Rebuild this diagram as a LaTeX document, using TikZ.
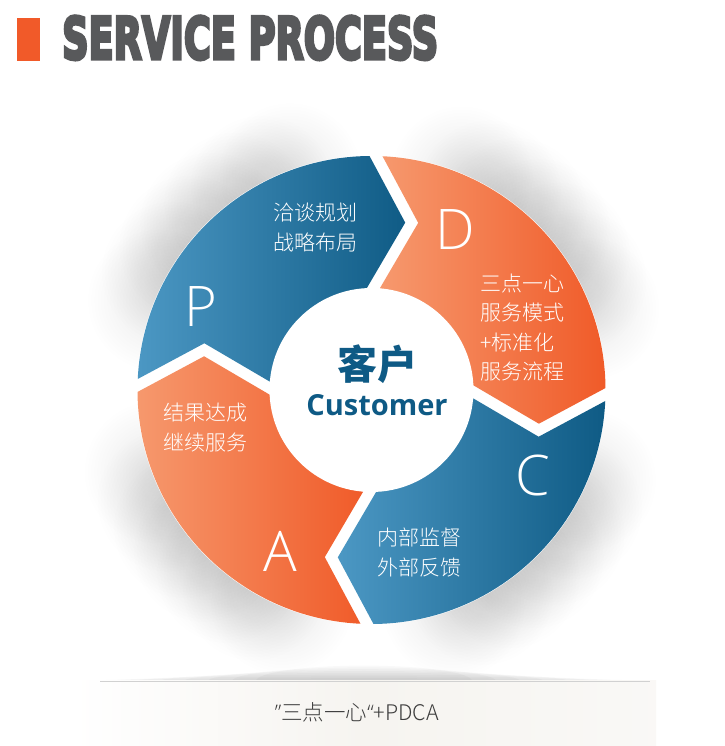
\documentclass[tikz,border=0pt]{standalone}
\usepackage{fontspec}
\usepackage{graphicx}
\usetikzlibrary{calc,fadings}
\newfontfamily\cjk{Noto Sans CJK SC}
\IfFontExistsTF{Noto Sans CJK SC Light}
  {\newfontfamily\cjklight{Noto Sans CJK SC Light}}
  {\newfontfamily\cjklight{Noto Sans CJK SC}}
\newfontfamily\osans{Open Sans}
\IfFontExistsTF{Open Sans Light}
  {\newfontfamily\osanslight{Open Sans Light}}
  {\newfontfamily\osanslight{Open Sans}}
\newfontfamily\titlefont{DejaVu Sans}[BoldFeatures={FakeBold=6}]
\definecolor{bluel}{HTML}{4C98C4}
\definecolor{blued}{HTML}{0E5A84}
\definecolor{orangel}{HTML}{F6996E}
\definecolor{oranged}{HTML}{F05A28}
\definecolor{titlegray}{HTML}{58595B}
\definecolor{markorange}{HTML}{F15A29}
\definecolor{centerblue}{HTML}{0E5A85}
\definecolor{capbg}{HTML}{F6F4F0}
\definecolor{captext}{HTML}{3C3C3C}
\tikzfading[name=blobfade, inner color=transparent!0, outer color=transparent!100]
\tikzset{
  segtext/.style={text=white, align=left, inner sep=0, font=\cjklight\fontsize{21}{29.5}\selectfont},
  letter/.style={text=white, inner sep=0, anchor=base, font=\osanslight\fontsize{56}{56}\selectfont},
  shadowblob/.style={black, opacity=0.09, path fading=blobfade}
}
\begin{document}
\begin{tikzpicture}[x=1pt,y=1pt]
\useasboundingbox (0,0) rectangle (724,746);
\fill[white] (0,0) rectangle (724,746);
\coordinate (ctr) at (371.5,356);

% boundary coordinates
\foreach \n/\a in {ap/178.9, pd/88.9, dc/-1.1, ca/268.9} {
  \begin{scope}[shift={(371.5,356)}, rotate=\a]
    \coordinate (\n Xf) at (300,6.5);
    \coordinate (\n Xo) at (234,6.5);
    \coordinate (\n Xt) at (168,-30.5);
    \coordinate (\n Xi) at (102,6.5);
    \coordinate (\n Yf) at (300,-6.5);
    \coordinate (\n Yo) at (234,-6.5);
    \coordinate (\n Yt) at (168,-43.5);
    \coordinate (\n Yi) at (102,-6.5);
  \end{scope}
}

% soft shadows
\foreach \m in {133.9,43.9,-46.1,223.9} {
  \foreach \d in {-24,-16,...,24} {
    \fill[shadowblob] ($(ctr)+(\m:8)+(\m+\d:224)$) circle (72);
  }
}
\fill[white] (ctr) circle (234.5);

% P segment
\begin{scope}
  \clip (apYf) -- (apYo) -- (apYt) -- (apYi) -- (pdXi) -- (pdXt) -- (pdXo) -- (pdXf) -- ($(ctr)+(133.9:450)$) -- cycle;
  \clip (ctr) circle (234);
  \shade[left color=bluel, right color=blued] (135,100) rectangle (412,620);
\end{scope}
% D segment
\begin{scope}
  \clip (pdYf) -- (pdYo) -- (pdYt) -- (pdYi) -- (dcXi) -- (dcXt) -- (dcXo) -- (dcXf) -- ($(ctr)+(43.9:450)$) -- cycle;
  \clip (ctr) circle (234);
  \shade[left color=orangel, right color=oranged] (380,100) rectangle (608,620);
\end{scope}
% C segment
\begin{scope}
  \clip (dcYf) -- (dcYo) -- (dcYt) -- (dcYi) -- (caXi) -- (caXt) -- (caXo) -- (caXf) -- ($(ctr)+(-46.1:450)$) -- cycle;
  \clip (ctr) circle (234);
  \shade[left color=bluel, right color=blued] (336,100) rectangle (608,620);
\end{scope}
% A segment
\begin{scope}
  \clip (caYf) -- (caYo) -- (caYt) -- (caYi) -- (apXi) -- (apXt) -- (apXo) -- (apXf) -- ($(ctr)+(223.9:450)$) -- cycle;
  \clip (ctr) circle (234);
  \shade[left color=orangel, right color=oranged] (135,100) rectangle (368,620);
\end{scope}

% centre disc
\fill[white] (ctr) circle (102);
\node[inner sep=0, text=centerblue, font=\cjk\bfseries\fontsize{40}{40}\selectfont] (kehu) at (377,382) {客户};
\node[inner sep=0, anchor=base, text=centerblue, font=\osans\bfseries\fontsize{29}{29}\selectfont] (cust) at (377,330) {Customer};

% letters
\node[letter] (lp) at (201,419) {P};
\node[letter] (ld) at (455,496) {D};
\node[letter] (lc) at (533,250) {C};
\node[letter] (la) at (280,174) {A};

% segment texts
\node[segtext, anchor=west] (tp) at (273,518.5) {洽谈规划\\战略布局};
\node[segtext, anchor=west] (td) at (480,418.5) {三点一心\\服务模式\\+标准化\\服务流程};
\node[segtext, anchor=west] (tc) at (377,193.5) {内部监督\\外部反馈};
\node[segtext, anchor=west] (ta) at (163,318.5) {结果达成\\继续服务};

% title
\fill[markorange] (17,685) rectangle (40,728);
\node[inner sep=0, anchor=south west, text=titlegray] (title) at (62,686)
  {\resizebox{376pt}{43pt}{\titlefont\bfseries SERVICE PROCESS}};

% caption band
\foreach \k in {1,...,8} {
  \fill[black, opacity=0.022] (364,65) ellipse ({300-\k*24} and {1+\k*1.8});
}
\shade[left color=white, right color=capbg!60, middle color=capbg] (72,0) rectangle (656,65);
\draw[black!18, line width=0.6] (100,65) -- (650,65);
\node[inner sep=0, text=captext, font=\cjklight\fontsize{21.5}{21.5}\selectfont] (cap) at (357,34) {{\osanslight ”}三点一心{\osanslight “}+PDCA};
\end{tikzpicture}
\end{document}
